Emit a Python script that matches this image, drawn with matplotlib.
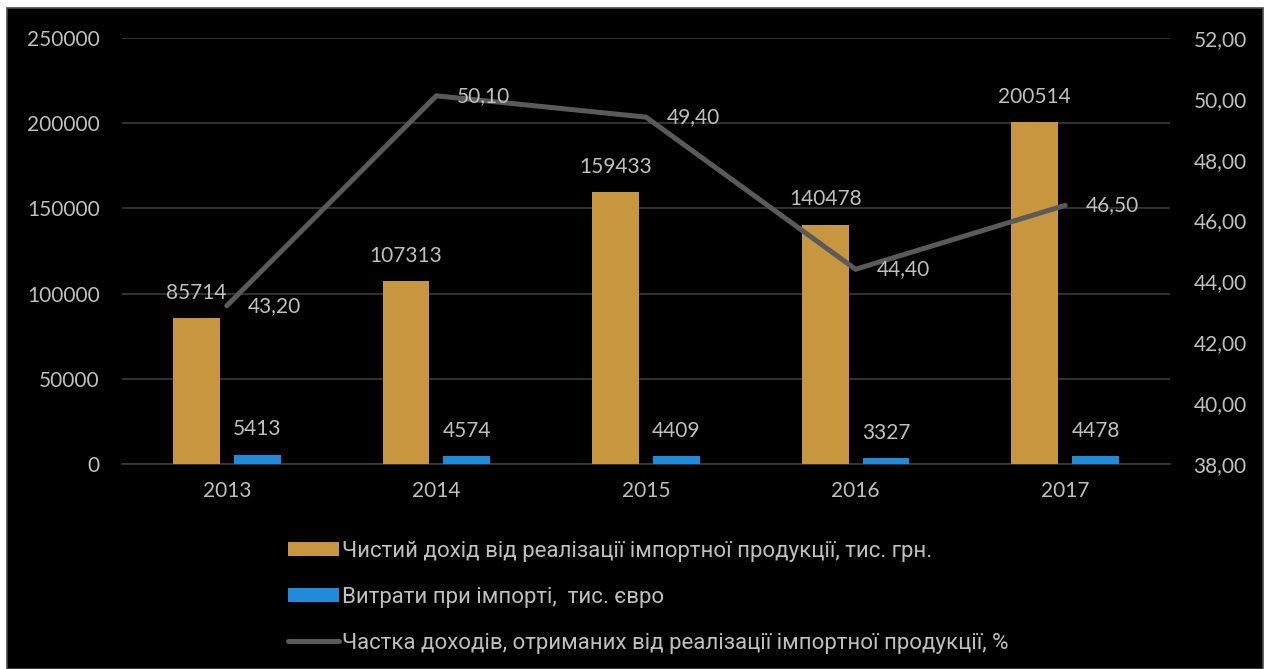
import matplotlib
matplotlib.use("Agg")
import matplotlib.pyplot as plt
from matplotlib.patches import Rectangle
import numpy as np

years = ["2013", "2014", "2015", "2016", "2017"]
income = [85714, 107313, 159433, 140478, 200514]
costs = [5413, 4574, 4409, 3327, 4478]
share = [43.20, 50.10, 49.40, 44.40, 46.50]

left_ticks = [0, 50000, 100000, 150000, 200000, 250000]
right_ticks = [38, 40, 42, 44, 46, 48, 50, 52]

legend_labels = [
    "Чистий дохід від реалізації імпортної продукції, тис. грн.",
    "Витрати при імпорті,  тис. євро",
    "Частка доходів, отриманих від реалізації імпортної продукції, %",
]

GOLD = "#C8963E"
BLUE = "#1F8BDA"
LINE = "#5A5A5A"
TXT = "#BFBFBF"
GRID = "#3A3A3A"
FONT = ["Lato", "DejaVu Sans"]
NARROW = ["Roboto", "DejaVu Sans"]

W, H = 1266, 669
fig = plt.figure(figsize=(W / 100, H / 100), dpi=100, facecolor="white")

# dark panel behind the chart
fig.patches.append(Rectangle((7 / W, 0), (1256) / W, (H - 8) / H,
                             transform=fig.transFigure, facecolor="black",
                             edgecolor="#4a4a4a", linewidth=1.2, zorder=-10))

ax = fig.add_axes([122 / W, 205 / H, 1048 / W, 426 / H])
ax.set_facecolor("none")
ax2 = ax.twinx()

x = np.arange(len(years))
bw = 0.224
off = 0.145

b1 = ax.bar(x - off, income, width=bw, color=GOLD, zorder=3,
            label=legend_labels[0])
b2 = ax.bar(x + off, costs, width=bw, color=BLUE, zorder=3,
            label=legend_labels[1])

ax.set_xlim(-0.5, len(years) - 0.5)
ax.set_ylim(0, 250000)
ax.set_yticks(left_ticks)
ax.set_yticklabels([str(v) for v in left_ticks])
ax.set_xticks(x)
ax.set_xticklabels(years)
ax.yaxis.grid(True, color=GRID, linewidth=1.2, zorder=0)
ax.set_axisbelow(True)
for s in ax.spines.values():
    s.set_visible(False)
ax.spines["bottom"].set_visible(True)
ax.spines["bottom"].set_color(GRID)
ax.spines["bottom"].set_linewidth(1.2)
ax.tick_params(axis="both", length=0, colors=TXT, labelsize=15)
ax.tick_params(axis="y", pad=16)
ax.tick_params(axis="x", pad=12)
for lab in ax.get_xticklabels() + ax.get_yticklabels():
    lab.set_fontfamily(FONT)

for xi, v in zip(x - off, income):
    ax.annotate(str(v), (xi, v), xytext=(0, 11), textcoords="offset points",
                ha="center", va="bottom", color=TXT, fontsize=15,
                family=FONT, zorder=5)
for xi, v in zip(x + off, costs):
    ax.annotate(str(v), (xi, v), xytext=(0, 11), textcoords="offset points",
                ha="center", va="bottom", color=TXT, fontsize=15,
                family=FONT, zorder=5)

ln, = ax2.plot(x, share, color=LINE, linewidth=3.6, solid_capstyle="round",
               solid_joinstyle="miter", zorder=4, label=legend_labels[2])
ax2.set_ylim(38, 52)
ax2.set_yticks(right_ticks)
ax2.set_yticklabels([f"{v:.2f}".replace(".", ",") for v in right_ticks])
ax2.tick_params(axis="y", length=0, colors=TXT, labelsize=15, pad=17)
for lab in ax2.get_yticklabels():
    lab.set_fontfamily(FONT)
for s in ax2.spines.values():
    s.set_visible(False)

for xi, v in zip(x, share):
    ax2.annotate(f"{v:.2f}".replace(".", ","), (xi, v), xytext=(15, 0),
                 textcoords="offset points", ha="left", va="center",
                 color=TXT, fontsize=15, family=FONT, zorder=6)

leg = fig.legend(handles=[b1, b2, ln], labels=legend_labels,
                 loc="upper left", bbox_to_anchor=(268 / W, 1 - 521 / H),
                 ncol=1, frameon=False, handlelength=2.3, handleheight=0.55,
                 handletextpad=0.15, labelspacing=1.12,
                 prop={"family": NARROW, "size": 16})
for t in leg.get_texts():
    t.set_color(TXT)

fig.savefig("out.png", dpi=100, facecolor="white")
